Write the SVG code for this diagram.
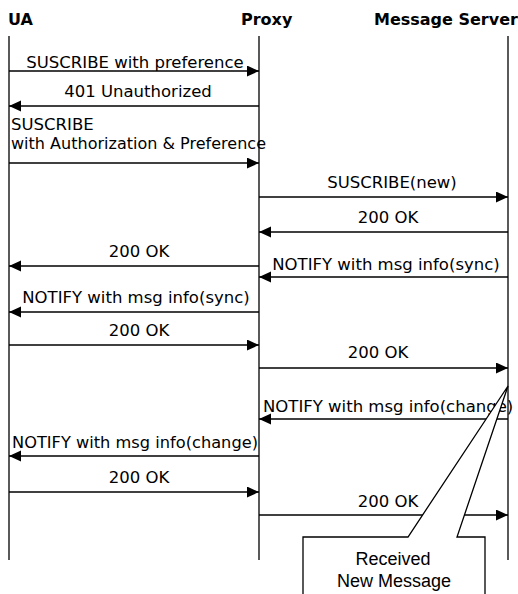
<svg xmlns="http://www.w3.org/2000/svg" width="518" height="594" viewBox="0 0 518 594">
<style>
.hdr{font-family:"DejaVu Sans",sans-serif;font-weight:bold;font-size:16px;fill:#000}
.lbl{font-family:"DejaVu Sans",sans-serif;font-size:16.5px;fill:#000}
.c{text-anchor:middle}
.life{stroke:#000;stroke-width:1.3;fill:none}
.msg{stroke:#000;stroke-width:1.3;fill:none;marker-end:url(#ah)}
.note{font-family:"Liberation Sans",Arial,sans-serif;font-size:18px;fill:#000;text-anchor:middle}
</style>
<defs>
<marker id="ah" markerUnits="userSpaceOnUse" markerWidth="13" markerHeight="12" refX="12" refY="5.5" orient="auto">
<path d="M0,0 L12,5.5 L0,11 z" fill="#000"/>
</marker>
</defs>
<rect width="518" height="594" fill="#fff"/>
<g id="ua"><text class="hdr" x="8" y="25">UA</text><line class="life" x1="9" y1="36" x2="9" y2="560"/></g>
<g id="proxy"><text class="hdr" x="241" y="25">Proxy</text><line class="life" x1="259" y1="36" x2="259" y2="560"/></g>
<g id="server"><text class="hdr" x="374" y="25">Message Server</text><line class="life" x1="508" y1="36" x2="508" y2="560"/></g>
<g id="connectors">
<line class="msg" x1="9" y1="71" x2="259" y2="71"/>
<text class="lbl c" x="135" y="68">SUSCRIBE with preference</text>
<line class="msg" x1="259" y1="106" x2="9" y2="106"/>
<text class="lbl c" x="138" y="97">401 Unauthorized</text>
<line class="msg" x1="9" y1="163" x2="259" y2="163"/>
<text class="lbl" x="11" y="130">SUSCRIBE</text>
<text class="lbl" x="11" y="149" textLength="255" lengthAdjust="spacingAndGlyphs">with Authorization &amp; Preference</text>
<line class="msg" x1="259" y1="197" x2="508" y2="197"/>
<text class="lbl c" x="392" y="188">SUSCRIBE(new)</text>
<line class="msg" x1="508" y1="232" x2="259" y2="232"/>
<text class="lbl c" x="388" y="223">200 OK</text>
<line class="msg" x1="259" y1="266" x2="9" y2="266"/>
<text class="lbl c" x="139" y="257">200 OK</text>
<line class="msg" x1="508" y1="277" x2="259" y2="277"/>
<text class="lbl c" x="386" y="270">NOTIFY with msg info(sync)</text>
<line class="msg" x1="259" y1="312" x2="9" y2="312"/>
<text class="lbl c" x="136" y="303">NOTIFY with msg info(sync)</text>
<line class="msg" x1="9" y1="345" x2="259" y2="345"/>
<text class="lbl c" x="139" y="336">200 OK</text>
<line class="msg" x1="259" y1="368" x2="508" y2="368"/>
<text class="lbl c" x="378" y="358">200 OK</text>
<line class="msg" x1="508" y1="419" x2="259" y2="419"/>
<text class="lbl" x="263" y="412">NOTIFY with msg info(change)</text>
<line class="msg" x1="259" y1="456" x2="9" y2="456"/>
<text class="lbl" x="12" y="448" textLength="246" lengthAdjust="spacingAndGlyphs">NOTIFY with msg info(change)</text>
<line class="msg" x1="9" y1="492" x2="259" y2="492"/>
<text class="lbl c" x="139" y="483">200 OK</text>
<line class="msg" x1="259" y1="515" x2="508" y2="515"/>
<text class="lbl c" x="388" y="507">200 OK</text>
</g>
<g id="note">
<path d="M303,594 L303,537 L408,537 L508,386 L457,537 L485,537 L485,594" fill="#fff" stroke="#000" stroke-width="1.3"/>
<text class="note" x="393" y="565">Received</text>
<text class="note" x="394" y="587">New Message</text>
</g>
</svg>
